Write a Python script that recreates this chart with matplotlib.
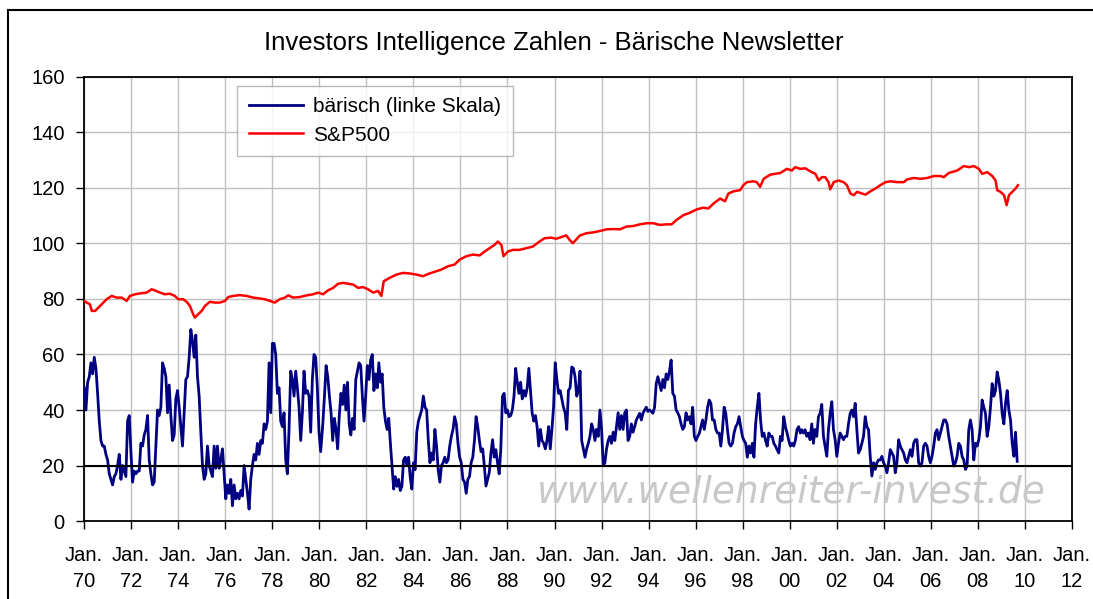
import matplotlib
matplotlib.use("Agg")
import matplotlib.pyplot as plt
import numpy as np
from matplotlib.lines import Line2D

plt.rcParams["font.family"] = ["Liberation Sans", "DejaVu Sans"]

bear_70s = [48, 40, 50, 52, 57, 53, 59, 55, 46, 36,
            29, 27, 27, 24, 22, 17, 15, 13, 16, 17,
            20, 24, 15, 20, 18, 16, 36, 38, 25, 14,
            18, 17, 18, 18, 28, 27, 31, 33, 38, 22,
            17, 13, 14, 27, 40, 38, 41, 57, 55, 52,
            39, 49, 38, 29, 31, 44, 47, 41, 34, 27,
            39, 51, 52, 59, 69, 65, 59, 67, 52, 45,
            32, 20, 15, 17, 27, 20, 18, 16, 27, 19,
            27, 19, 22, 26, 17, 8, 13, 10, 15, 5.5,
            13, 8, 10, 8, 11, 9, 20, 15, 10, 4.3,
            15, 20, 24, 22, 28, 24, 29, 28, 35, 33,
            36, 57, 39, 64, 64, 60, 46, 48, 36, 34,
            39, 22, 17, 33, 54, 51, 45, 54, 48, 41,
            29, 39, 54, 46, 47, 45, 32, 51, 60, 59,
            48, 32, 25, 33]
bear_80s = [35, 45, 56, 52, 45, 39, 29, 37, 33, 26,
            38, 46, 42, 49, 40, 50, 35, 31, 37, 33,
            51, 54, 57, 56, 45, 36, 45, 56, 51, 58,
            60, 47, 53, 48, 57, 50, 53, 41, 36, 33,
            37, 28, 20, 11.5, 16, 12.5, 15, 11, 12.5, 22,
            23, 20, 23, 16, 11.5, 21, 18.5, 32, 36, 38,
            40, 45, 41, 40, 29, 21, 24.5, 22, 33, 27,
            18.5, 14, 20, 21, 23, 21, 22, 27, 30.5, 33,
            37.6, 35, 28, 23, 21, 15, 14, 10, 15, 16,
            21, 23, 29, 37.6, 34, 29, 25, 26, 19.8, 12.6,
            15, 17.5, 24.5, 29.3, 23, 25.7, 21, 17, 26, 45,
            46, 39, 40, 37.6, 38, 40, 45, 55, 50, 46,
            50, 44, 47, 45, 48, 55, 47, 39, 36, 38,
            34, 27, 33, 29, 28, 26, 29, 34, 26, 33,
            41, 57, 51, 46]
bear_90s = [47, 44, 41, 39, 33, 47, 48, 55.5, 55, 52,
            45, 47, 54, 29, 26, 23, 26, 28, 30.5, 35,
            33, 29, 33, 30.5, 40, 33, 20, 21, 26, 29,
            30.5, 28, 32, 29, 34, 39, 33, 38, 33, 39,
            40, 29, 30.5, 35, 32, 34, 36.4, 37.6, 38.8, 36.4,
            38.8, 40, 41, 39.5, 40, 39.5, 38.8, 41, 49.5, 52,
            49.5, 47, 51, 48, 53, 51, 54, 58, 46, 45,
            40, 39, 37.6, 35, 33, 34, 39, 36.4, 37.6, 35,
            41, 30.5, 29, 30.5, 31.5, 34, 36.4, 33, 36.4, 41,
            43.6, 42.4, 36.4, 36.4, 33, 31.7, 31.7, 27, 33, 41,
            38.8, 33, 28, 27, 28, 31.7, 34, 35, 37.6, 34,
            30.5, 29, 28, 23, 27, 24.5, 28, 23, 35, 41,
            46, 36.4, 30.5, 31.7, 29, 27, 31.7, 30.5, 30.5, 28,
            27, 25.7, 24.5, 30.5, 29, 37.6, 34, 31.7, 29, 27,
            28, 27, 29, 33, 34, 31.7]
bear_00s = [32.9, 31.7, 32.9, 30.5, 31.7, 29.3, 35, 28, 33, 30.5,
            37.6, 38.8, 42, 30.5, 27, 23.3, 32.9, 38.8, 43, 32.9,
            29.3, 23.3, 28, 31.7, 30.5, 29.3, 30.5, 30.5, 35, 38.8,
            40, 37.6, 42.4, 32.9, 24.5, 25.7, 28, 30.5, 37.6, 34,
            32.9, 23.3, 16.2, 21, 18.6, 21, 22, 22, 23.3, 21,
            19.8, 17.4, 21, 25.7, 24.5, 23.3, 17.4, 21, 29.3, 27,
            25.7, 24.5, 22, 21, 23.3, 25.7, 23.3, 28, 29.3, 29.3,
            21, 19.8, 21, 27, 28, 27, 23.3, 21, 23.3, 27,
            31.7, 32.9, 29.3, 31.7, 34, 36.4, 36.4, 35, 30.5, 27,
            23.3, 19.8, 21, 23.3, 28, 27, 23.3, 22, 18.6, 19.8,
            32.9, 36.4, 32.9, 22, 28, 27, 29.3, 34, 43.6, 41,
            38.8, 30.5, 34, 41, 49.5, 45, 47, 53.7, 50.7, 46,
            38.8, 35, 42.4, 47, 40, 36.4, 28, 23.3, 32, 21.5]
# Zeitraum (Dezimaljahre) je Abschnitt
bear_spans = [(1970.01, 1980.13), (1980.15, 1990.17), (1990.24, 2000.45), (2000.51, 2009.67)]

# S&P500, auf die linke Skala umgerechnet
sp_years = [1970.00, 1970.11, 1970.25, 1970.33, 1970.47, 1970.61, 1970.75, 1970.96, 1971.17, 1971.39,
            1971.60, 1971.81, 1971.95, 1972.17, 1972.38, 1972.66, 1972.87, 1973.01, 1973.23, 1973.44,
            1973.65, 1973.86, 1974.01, 1974.22, 1974.36, 1974.50, 1974.64, 1974.71, 1974.85, 1975.00,
            1975.14, 1975.35, 1975.56, 1975.77, 1975.99, 1976.13, 1976.34, 1976.62, 1976.91, 1977.19,
            1977.47, 1977.69, 1977.90, 1978.11, 1978.32, 1978.54, 1978.68, 1978.89, 1979.17, 1979.46,
            1979.74, 1979.95, 1980.16, 1980.37, 1980.59, 1980.80, 1981.01, 1981.22, 1981.44, 1981.65,
            1981.86, 1982.07, 1982.29, 1982.50, 1982.64, 1982.74, 1982.99, 1983.28, 1983.56, 1983.84,
            1984.13, 1984.41, 1984.62, 1984.90, 1985.19, 1985.47, 1985.75, 1985.97, 1986.25, 1986.53,
            1986.82, 1987.03, 1987.24, 1987.45, 1987.59, 1987.74, 1987.83, 1988.02, 1988.23, 1988.51,
            1988.80, 1989.08, 1989.36, 1989.58, 1989.86, 1990.07, 1990.35, 1990.50, 1990.64, 1990.78,
            1991.08, 1991.36, 1991.65, 1991.93, 1992.21, 1992.50, 1992.78, 1993.06, 1993.35, 1993.63,
            1993.92, 1994.20, 1994.48, 1994.77, 1994.98, 1995.19, 1995.48, 1995.76, 1996.05, 1996.33,
            1996.54, 1996.76, 1997.04, 1997.25, 1997.39, 1997.61, 1997.89, 1998.03, 1998.18, 1998.46,
            1998.60, 1998.74, 1998.89, 1999.17, 1999.38, 1999.60, 1999.88, 2000.09, 2000.23, 2000.45,
            2000.66, 2000.87, 2001.09, 2001.23, 2001.37, 2001.51, 2001.65, 2001.72, 2001.87, 2002.08,
            2002.29, 2002.43, 2002.58, 2002.72, 2002.86, 2003.07, 2003.22, 2003.43, 2003.64, 2003.85,
            2004.07, 2004.28, 2004.56, 2004.85, 2004.99, 2005.27, 2005.56, 2005.84, 2006.13, 2006.41,
            2006.55, 2006.76, 2007.12, 2007.40, 2007.62, 2007.83, 2008.04, 2008.18, 2008.40, 2008.61,
            2008.75, 2008.82, 2008.96, 2009.11, 2009.22, 2009.32, 2009.46, 2009.60, 2009.70]
sp_vals = [79.3, 78.7, 78.1, 75.7, 75.7, 76.9, 78.1, 79.9, 81.1, 80.5,
           80.5, 79.3, 81.1, 81.7, 82.0, 82.3, 83.5, 83.1, 82.3, 81.7,
           81.9, 81.1, 79.9, 79.9, 79.0, 77.5, 74.5, 73.3, 74.5, 75.7,
           77.5, 79.0, 78.7, 78.7, 79.3, 80.7, 81.1, 81.4, 81.1, 80.5,
           80.2, 79.9, 79.3, 78.7, 79.9, 80.5, 81.3, 80.5, 80.7, 81.3,
           81.7, 82.3, 81.7, 83.1, 84.0, 85.5, 85.8, 85.5, 85.2, 84.0,
           84.3, 83.5, 82.3, 82.9, 81.1, 86.4, 87.6, 88.8, 89.4, 89.2,
           88.8, 88.2, 89.0, 89.8, 90.6, 91.8, 92.4, 94.2, 95.4, 96.0,
           95.7, 97.1, 98.3, 99.5, 100.7, 99.5, 95.4, 97.1, 97.7, 97.7,
           98.3, 98.9, 100.7, 101.9, 102.1, 101.7, 102.5, 102.9, 101.3, 100.1,
           102.9, 103.7, 104.0, 104.5, 105.1, 105.2, 105.1, 106.1, 106.3, 106.9,
           107.3, 107.3, 106.7, 106.9, 106.9, 108.5, 110.2, 111.1, 112.3, 112.9,
           112.6, 114.4, 116.2, 115.2, 118.0, 118.8, 119.2, 121.0, 122.1, 122.4,
           122.1, 120.4, 123.3, 124.8, 125.1, 125.4, 126.9, 126.3, 127.5, 126.9,
           127.1, 126.0, 125.1, 122.7, 123.9, 123.9, 122.1, 119.5, 122.1, 122.7,
           122.1, 121.0, 118.0, 117.4, 118.6, 118.0, 117.6, 118.8, 119.8, 121.0,
           122.1, 122.4, 122.1, 122.1, 123.1, 123.6, 123.3, 123.6, 124.3, 124.3,
           123.9, 125.4, 126.3, 127.9, 127.5, 127.9, 126.9, 125.1, 125.7, 124.3,
           122.7, 119.2, 118.6, 117.4, 113.8, 117.4, 118.6, 119.8, 121.0]

tick_years = list(range(1970, 2013, 2))
tick_labels = [f"Jan.\n{y % 100:02d}" for y in tick_years]

fig = plt.figure(figsize=(10.93, 5.99), dpi=100)
ax = fig.add_axes([0.0769, 0.1302, 0.9039, 0.7413])

bear_parts = [bear_70s, bear_80s, bear_90s, bear_00s]
bear_x = np.concatenate([np.linspace(a, b, len(v)) for (a, b), v in zip(bear_spans, bear_parts)])
bear_y = np.concatenate(bear_parts)

ax.plot(bear_x, bear_y, color="#000080", lw=2, label="bärisch (linke Skala)", zorder=3)
ax.plot(sp_years, sp_vals, color="#ff0000", lw=1.8, label="S&P500", zorder=3)
ax.axhline(20, color="black", lw=1.5, zorder=4)

ax.set_xlim(1970, 2012)
ax.set_ylim(0, 160)
ax.set_xticks(tick_years)
ax.set_xticklabels(tick_labels)
ax.set_yticks(range(0, 161, 20))
ax.grid(True, color="#c0c0c0", lw=1)
ax.set_axisbelow(True)
for s in ax.spines.values():
    s.set_color("black")
    s.set_linewidth(1.3)
ax.tick_params(axis="both", direction="out", length=6, width=1, labelsize=14.5)
ax.tick_params(axis="x", pad=12)
ax.tick_params(axis="y", pad=8)
for lbl in ax.get_xticklabels():
    lbl.set_linespacing(1.45)

ax.text(0.7156, 0.0653, "www.wellenreiter-invest.de", transform=ax.transAxes,
        fontsize=27, style="italic", family="DejaVu Sans", color="#c8c8c8",
        ha="center", va="center", zorder=2)

leg = ax.legend(loc="upper left", bbox_to_anchor=(0.155, 0.98), borderaxespad=0,
                fontsize=15, frameon=True, fancybox=False, edgecolor="#a8a8a8",
                handlelength=2.6, handletextpad=0.5, borderpad=0.55, labelspacing=0.45)
leg.get_frame().set_linewidth(1)

fig.text(0.507, 0.928, "Investors Intelligence Zahlen - Bärische Newsletter",
         fontsize=18.5, ha="center", va="center")

# aeusserer Rahmen (links und oben)
fig.add_artist(Line2D([0.0073, 0.0073], [0, 0.983], color="black", lw=1.5))
fig.add_artist(Line2D([0.0073, 1.0], [0.983, 0.983], color="black", lw=1.5))

fig.savefig("out.png", dpi=100)
